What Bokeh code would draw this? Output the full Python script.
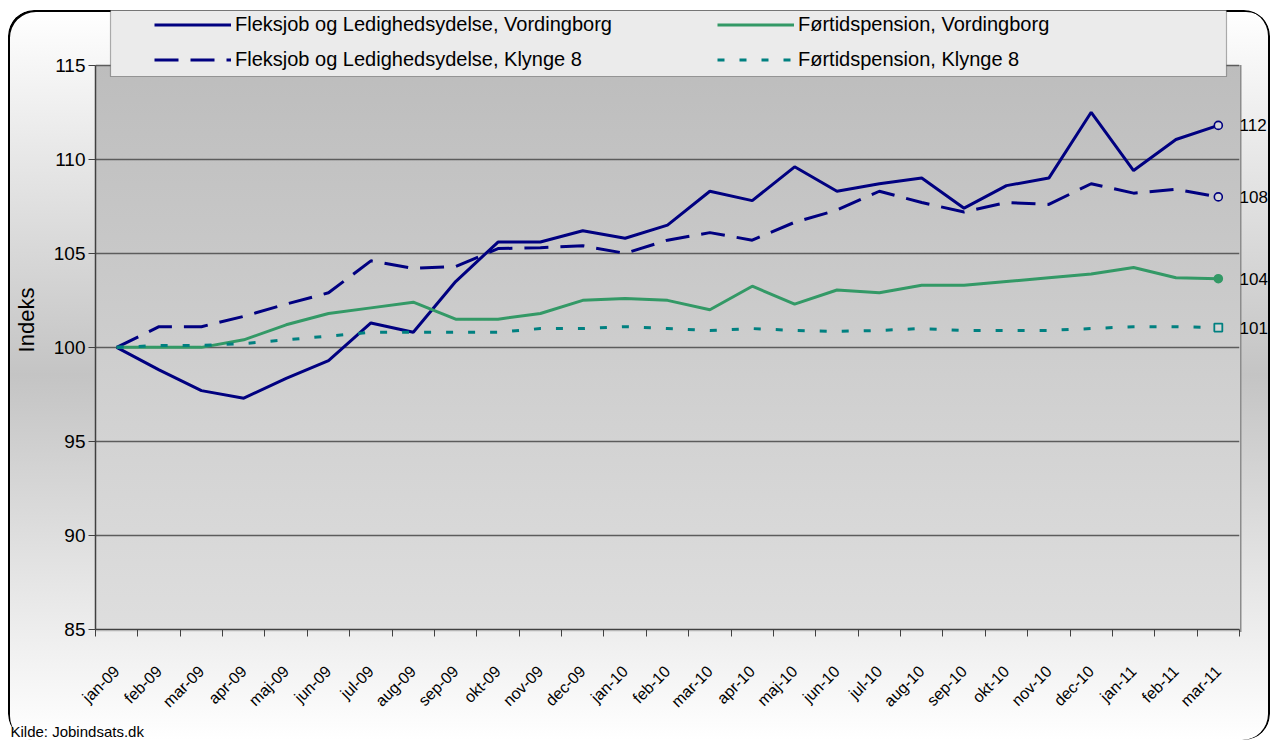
import math
from bokeh.plotting import figure
from bokeh.models import (Range1d, FixedTicker, Legend, LegendItem, BoxAnnotation, LinearAxis,
                          NumeralTickFormatter, Title)
from bokeh.embed import file_html
from bokeh.resources import INLINE

months = ["jan-09", "feb-09", "mar-09", "apr-09", "maj-09", "jun-09", "jul-09", "aug-09",
          "sep-09", "okt-09", "nov-09", "dec-09", "jan-10", "feb-10", "mar-10", "apr-10",
          "maj-10", "jun-10", "jul-10", "aug-10", "sep-10", "okt-10", "nov-10", "dec-10",
          "jan-11", "feb-11", "mar-11"]

flex_vord = [100.0, 98.8, 97.7, 97.3, 98.35, 99.3, 101.3, 100.8, 103.5, 105.6, 105.6, 106.2,
             105.8, 106.5, 108.3, 107.8, 109.6, 108.3, 108.7, 109.0, 107.4, 108.6, 109.0,
             112.5, 109.4, 111.05, 111.8]
flex_k8 = [100.0, 101.1, 101.1, 101.65, 102.3, 102.9, 104.6, 104.2, 104.3, 105.25, 105.3, 105.4,
           105.0, 105.7, 106.1, 105.7, 106.65, 107.3, 108.3, 107.7, 107.2, 107.7, 107.6,
           108.7, 108.2, 108.4, 108.0]
ftp_vord = [100.0, 100.0, 100.0, 100.4, 101.2, 101.8, 102.1, 102.4, 101.5, 101.5, 101.8, 102.5,
            102.6, 102.5, 102.0, 103.25, 102.3, 103.05, 102.9, 103.3, 103.3, 103.5, 103.7,
            103.9, 104.25, 103.7, 103.65]
ftp_k8 = [100.0, 100.1, 100.1, 100.2, 100.4, 100.6, 100.8, 100.8, 100.8, 100.8, 101.0, 101.0,
          101.1, 101.0, 100.9, 101.0, 100.9, 100.85, 100.9, 101.0, 100.9, 100.9, 100.9,
          101.0, 101.1, 101.1, 101.05]

labels = ["Fleksjob og Ledighedsydelse, Vordingborg",
          "Fleksjob og Ledighedsydelse, Klynge 8",
          "Førtidspension, Vordingborg",
          "Førtidspension, Klynge 8"]
y_ticks = [85, 90, 95, 100, 105, 110, 115]
y_label = "Indeks"
source_note = "Kilde: Jobindsats.dk"

FONT = "Liberation Sans"
NAVY = "#000080"
GREEN = "#339966"
TEAL = "#008080"

# layout (canvas pixels)
W, H = 1262, 730
FL, FR, FB = 87, 1233, 622          # frame left / right / bottom
PLOT_TOP = 55                       # where the 115 line sits
PLOT_H = FB - PLOT_TOP
y_span = y_ticks[-1] - y_ticks[0]
y_end = y_ticks[0] + y_span * FB / PLOT_H   # frame reaches the canvas top (room for legend)

x = list(range(len(months)))

p = figure(width=W, height=H, output_backend="svg", toolbar_location=None,
           x_range=Range1d(-0.5, len(months) - 0.5), y_range=Range1d(y_ticks[0], y_end),
           min_border_left=FL, min_border_right=W - FR, min_border_top=0, min_border_bottom=H - FB)
p.background_fill_color = None
p.border_fill_color = None
p.outline_line_color = None
p.styles = {
    "margin-left": "8px",
    "margin-top": "10px",
    "background": (
        f"linear-gradient(#8c8c8c, #8c8c8c) {FR - 1}px {PLOT_TOP}px / 1.5px {PLOT_H}px no-repeat, "
        f"linear-gradient(to bottom, #bdbdbd, #dedede) {FL}px {PLOT_TOP}px / {FR - FL}px {PLOT_H}px no-repeat, "
        "linear-gradient(to bottom, #ffffff 0%, #c4c4c4 50%, #ffffff 100%)"),
    "border-radius": "26px",
    "box-shadow": "inset 2px 2px 0 0 #000000, inset -2px 0 0 0 #000000",
}

# axes
yt = FixedTicker(ticks=y_ticks)
p.yaxis.ticker = yt
p.yaxis.bounds = (y_ticks[0], y_ticks[-1])
p.ygrid.ticker = yt
p.ygrid.grid_line_color = "#5c5c5c"
p.ygrid.grid_line_width = 1.3
p.xgrid.grid_line_color = None

p.yaxis.axis_line_color = "#404040"
p.yaxis.axis_line_width = 1.5
p.yaxis.major_tick_in = 0
p.yaxis.major_tick_out = 7
p.yaxis.major_tick_line_color = "#404040"
p.yaxis.minor_tick_line_color = None
p.yaxis.major_label_standoff = 3
p.yaxis.major_label_text_font = FONT
p.yaxis.major_label_text_font_size = "19px"
p.yaxis.major_label_text_color = "#000000"
p.yaxis.axis_label = y_label
p.yaxis.axis_label_standoff = 12
p.yaxis.axis_label_text_font = FONT
p.yaxis.axis_label_text_font_size = "22px"
p.yaxis.axis_label_text_font_style = "normal"
p.yaxis.axis_label_text_color = "#000000"

p.xaxis.ticker = FixedTicker(ticks=x, minor_ticks=[i - 0.5 for i in range(len(months) + 1)])
p.xaxis.major_label_overrides = {i: m for i, m in zip(x, months)}
p.xaxis.axis_line_color = "#404040"
p.xaxis.axis_line_width = 1.5
p.xaxis.major_tick_line_color = None
p.xaxis.minor_tick_in = 0
p.xaxis.minor_tick_out = 7
p.xaxis.minor_tick_line_color = "#404040"
p.xaxis.major_label_orientation = math.pi / 4
p.xaxis.major_label_standoff = 32
p.xaxis.major_label_text_font = FONT
p.xaxis.major_label_text_font_size = "16px"
p.xaxis.major_label_text_color = "#000000"

# series
r1 = p.line(x, flex_vord, line_color=NAVY, line_width=3)
r2 = p.line(x, flex_k8, line_color=NAVY, line_width=3, line_dash="24 12")
r3 = p.line(x, ftp_vord, line_color=GREEN, line_width=3)
r4 = p.line(x, ftp_k8, line_color=TEAL, line_width=3, line_dash="7 15")

p.scatter([x[-1]], [flex_vord[-1]], marker="circle", size=8, fill_color="#d6d6d6",
          line_color=NAVY, line_width=1.6)
p.scatter([x[-1]], [flex_k8[-1]], marker="circle", size=8, fill_color="#d6d6d6",
          line_color=NAVY, line_width=1.6)
p.scatter([x[-1]], [ftp_vord[-1]], marker="circle", size=8, fill_color=GREEN,
          line_color=GREEN, line_width=1.6)
p.scatter([x[-1]], [ftp_k8[-1]], marker="square", size=8, fill_color="#d6d6d6",
          line_color=TEAL, line_width=1.8)

# end-value labels as a right axis
last_vals = [s[-1] for s in (flex_vord, flex_k8, ftp_vord, ftp_k8)]
ra = LinearAxis(ticker=FixedTicker(ticks=last_vals), formatter=NumeralTickFormatter(format="0"),
                axis_line_color=None, major_tick_line_color=None, minor_tick_line_color=None,
                major_tick_in=0, major_tick_out=0, major_label_standoff=0,
                major_label_text_font=FONT, major_label_text_font_size="17px",
                major_label_text_color="#000000")
p.add_layout(ra, "right")

# source note
p.add_layout(Title(text=source_note, align="left", offset=-(FL - 2), standoff=2,
                   text_font=FONT, text_font_size="15px", text_font_style="normal",
                   text_color="#000000"), "below")

# legend box + two legend columns (frame-relative screen units, y up)
p.add_layout(BoxAnnotation(left=15, right=1131, top=FB, bottom=FB - 69,
                           left_units="screen", right_units="screen",
                           top_units="screen", bottom_units="screen",
                           fill_color="#ebebeb", fill_alpha=1.0,
                           line_color="#000000", line_width=1.2))

common = dict(orientation="vertical", glyph_width=77, glyph_height=25, label_standoff=4,
              label_height=25, spacing=10, padding=0, margin=0,
              background_fill_alpha=0, border_line_color=None,
              label_text_font=FONT, label_text_font_size="20px", label_text_color="#000000")
legA = Legend(items=[LegendItem(label=labels[0], renderers=[r1]),
                     LegendItem(label=labels[1], renderers=[r2])],
              location=(59, FB - 65), **common)
legB = Legend(items=[LegendItem(label=labels[2], renderers=[r3]),
                     LegendItem(label=labels[3], renderers=[r4])],
              location=(622, FB - 65), **common)
p.add_layout(legA)
p.add_layout(legB)

open("out.html", "w").write(file_html(p, INLINE))
